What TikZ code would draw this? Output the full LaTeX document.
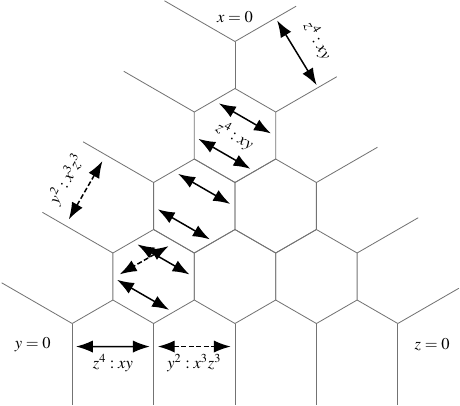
\documentclass[tikz,border=0pt]{standalone}
\usepackage{mathptmx}
\usetikzlibrary{arrows.meta}
\usetikzlibrary{calc}

\tikzset{
  edge/.style={black!55, line width=0.5pt},
  dual/.style={line width=0.9pt, {Latex[length=3.6mm,width=2.6mm]}-{Latex[length=3.6mm,width=2.6mm]}},
  dualdash/.style={dual, dash pattern=on 3pt off 1.5pt},
}

\begin{document}
\begin{tikzpicture}[x=1cm,y=1cm]

    \useasboundingbox (-5,-5.755) rectangle (4.787,2.883);

    % hexagon centres
    \coordinate (h1) at (0,0);
    \coordinate (h2) at (-0.866,-1.5);
    \coordinate (h3) at (0.866,-1.5);
    \coordinate (h4) at (-1.732,-3);
    \coordinate (h5) at (0,-3);
    \coordinate (h6) at (1.732,-3);

    % corners of each hexagon
    \foreach \h in {h1,h2,h3,h4,h5,h6}
      \foreach \a in {90,30,-30,-90,-150,150}
        \coordinate (\h c\a) at ($(\h)+(\a:1)$);

    % draw hexagons
    \foreach \h in {h1,h2,h3,h4,h5,h6}
      \draw[edge] (\h c90) -- (\h c30) -- (\h c-30) -- (\h c-90) -- (\h c-150) -- (\h c150) -- cycle;

    % outer vertices
    \coordinate (T) at ($(h1c90)+(90:1)$);
    \coordinate (L) at ($(h4c-150)+(-150:1)$);
    \coordinate (R) at ($(h6c-30)+(-30:1)$);
    \draw[edge] (h1c90) -- (T);
    \draw[edge] (h4c-150) -- (L);
    \draw[edge] (h6c-30) -- (R);

    % rays
    \foreach \v [count=\i] in {T,h1c150,h2c150,h4c150,L} {
      \coordinate (ul\i) at ($(\v)+(150:1.732)$);
      \draw[edge] (\v) -- (ul\i);
    }
    \foreach \v [count=\i] in {T,h1c30,h3c30,h6c30,R} {
      \coordinate (ur\i) at ($(\v)+(30:1.5)$);
      \draw[edge] (\v) -- (ur\i);
    }
    \foreach \v [count=\i] in {L,h4c-90,h5c-90,h6c-90,R} {
      \coordinate (dn\i) at ($(\v)+(-90:1.732)$);
      \draw[edge] (\v) -- (dn\i);
    }

    % arrows between rays
    \coordinate (ta) at ($(T)+(30:1)+(-60:0.06)$);
    \coordinate (tb) at ($(h1c30)+(30:1.04)+(120:0.06)$);
    \draw[dual] (ta) -- (tb);
    \node[rotate=-60] (tlab) at ($(ta)!0.5!(tb)+(30:0.52)$) {$z^4 : xy$};

    \coordinate (la) at ($(h2c150)+(150:1.17)+(-120:0.15)$);
    \coordinate (lb) at ($(h4c150)+(150:1.17)+(60:0.15)$);
    \draw[dualdash] (la) -- (lb);
    \node[rotate=60] (llab) at ($(la)!0.5!(lb)+(150:0.47)$) {$y^2 : x^3z^3$};

    \coordinate (ba) at ($(L)+(0.08,-0.49)$);
    \coordinate (bb) at ($(h4c-90)+(-0.08,-0.49)$);
    \coordinate (bc) at ($(h4c-90)+(0.09,-0.49)$);
    \coordinate (bd) at ($(h5c-90)+(-0.09,-0.49)$);
    \draw[dual] (ba) -- (bb);
    \draw[dualdash] (bc) -- (bd);
    \node (blab1) at ($(ba)!0.5!(bb)+(0,-0.36)$) {$z^4 : xy$};
    \node (blab2) at ($(bc)!0.5!(bd)+(0,-0.36)$) {$y^2 : x^3z^3$};

    % arrows inside hexagons
    \foreach \h in {h1,h2,h4} {
      \coordinate (\h a1) at ($(\h)+(60:0.42)+(150:0.64)$);
      \coordinate (\h a2) at ($(\h)+(60:0.42)+(-30:0.64)$);
      \coordinate (\h b1) at ($(\h)+(-120:0.45)+(150:0.64)$);
      \coordinate (\h b2) at ($(\h)+(-120:0.45)+(-30:0.64)$);
      \draw[dual] (\h a1) -- (\h a2);
      \draw[dual] (\h b1) -- (\h b2);
    }
    \coordinate (h4d1) at ($(h4)+(120:0.40)+(30:0.6)$);
    \coordinate (h4d2) at ($(h4)+(120:0.40)+(210:0.6)$);
    \draw[dualdash] (h4d1) -- (h4d2);
    \node[rotate=-30] (hlab) at (h1) {$z^4 : xy$};

    % labels
    \node (xlab) at ($(T)+(0,0.52)$) {$x = 0$};
    \node (ylab) at ($(L)+(-0.84,-0.46)$) {$y = 0$};
    \node (zlab) at ($(R)+(0.73,-0.44)$) {$z = 0$};
\end{tikzpicture}
\end{document}
